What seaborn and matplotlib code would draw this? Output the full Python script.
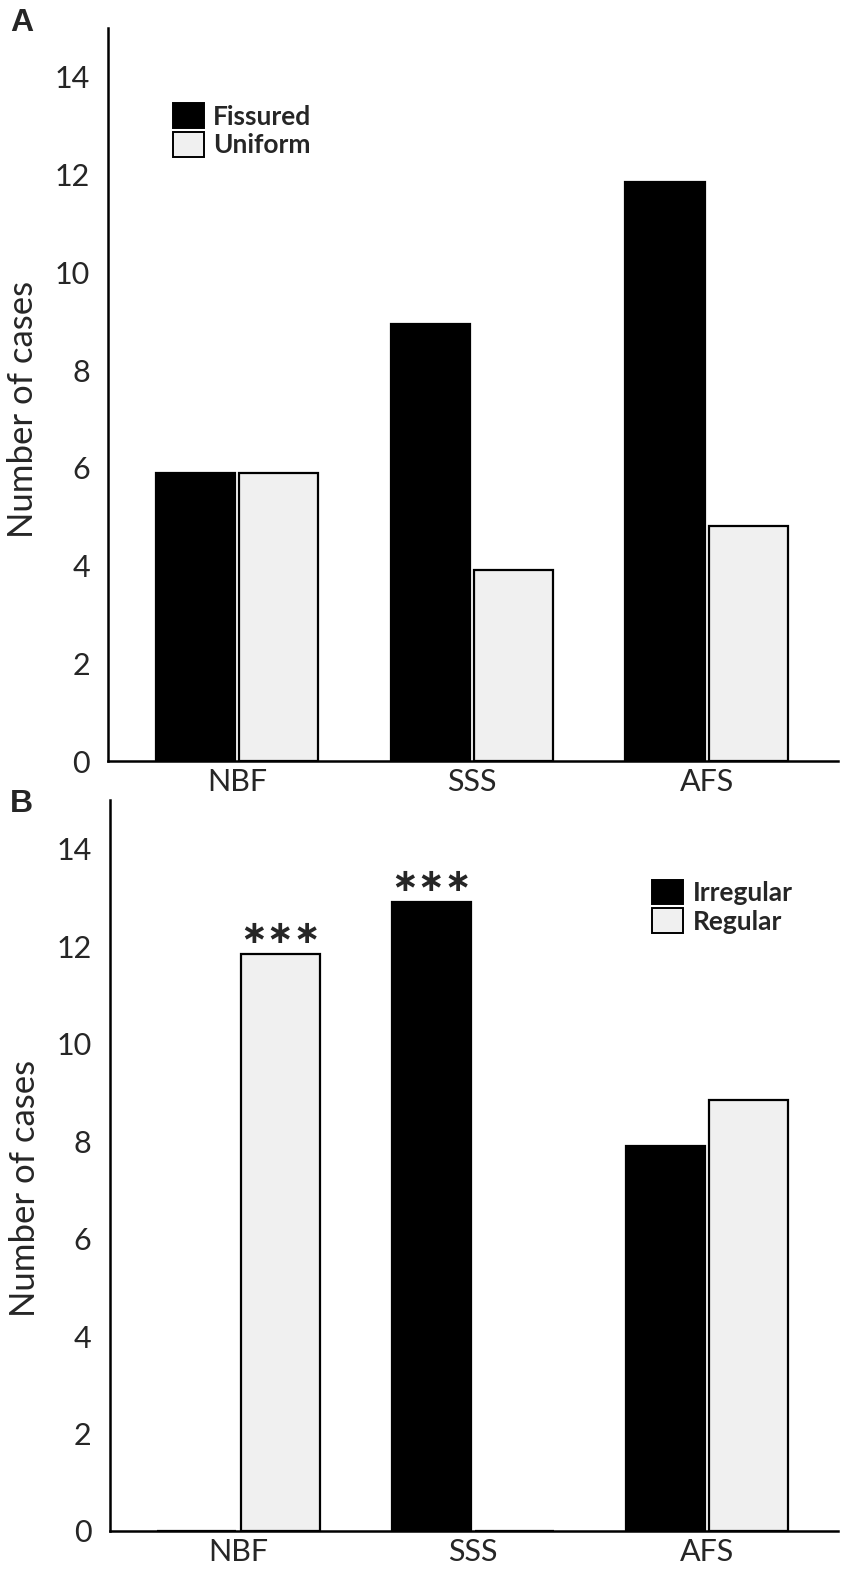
import matplotlib
matplotlib.use("Agg")
import matplotlib.pyplot as plt
from matplotlib.patches import Patch
import pandas as pd
import seaborn as sns

# -------------------------------------------
# data
# -------------------------------------------
sites = ["NBF", "SSS", "AFS"]

# panel A - bark surface
surface_types = ["Fissured", "Uniform"]
fissured = [5.9, 8.95, 11.85]
uniform = [5.9, 3.9, 4.8]

# panel B - trunk shape
shape_types = ["Irregular", "Regular"]
irregular = [0, 12.9, 7.9]
regular = [11.85, 0, 8.85]
starred_sites = ["NBF", "SSS"]

y_ticks = [0, 2, 4, 6, 8, 10, 12, 14]

df_a = pd.DataFrame({
    "site": sites * 2,
    "type": [surface_types[0]] * 3 + [surface_types[1]] * 3,
    "count": fissured + uniform,
})
df_b = pd.DataFrame({
    "site": sites * 2,
    "type": [shape_types[0]] * 3 + [shape_types[1]] * 3,
    "count": irregular + regular,
})

sns.set_theme(style="white")
plt.rcParams["font.family"] = ["Lato", "DejaVu Sans"]

DARK = "#000000"
LIGHT = "#f0f0f0"

fig = plt.figure(figsize=(8.5, 15.78), dpi=100)
ax_a = fig.add_axes([0.127, 0.5177, 0.859, 0.4646])
ax_b = fig.add_axes([0.129, 0.0298, 0.857, 0.4632])


def draw_panel(ax, df, levels, leg_anchor, label_y):
    sns.barplot(data=df, x="site", y="count", hue="type", hue_order=levels,
                order=sites, palette={levels[0]: DARK, levels[1]: LIGHT},
                edgecolor="black", linewidth=1.6, width=0.71, gap=0.05,
                saturation=1, legend=False, ax=ax)
    ax.set_xlim(-0.55, 2.56)
    ax.set_ylim(0, 15)
    ax.set_yticks(y_ticks)
    ax.tick_params(axis="both", labelsize=22, length=0)
    ax.tick_params(axis="x", pad=5)
    ax.tick_params(axis="y", pad=13)
    ax.set_xlabel("")
    ax.set_ylabel("Number of cases", fontsize=25)
    ax.yaxis.set_label_coords(-0.094, label_y)
    sns.despine(ax=ax)
    for s in ["left", "bottom"]:
        ax.spines[s].set_color("black")
        ax.spines[s].set_linewidth(1.8)
    handles = [Patch(facecolor=DARK, edgecolor="black", linewidth=1.4),
               Patch(facecolor=LIGHT, edgecolor="black", linewidth=1.4)]
    ax.legend(handles, levels, loc="upper left", bbox_to_anchor=leg_anchor,
              frameon=False, prop={"weight": "bold", "size": 19},
              handlelength=1.17, handleheight=1.06, handletextpad=0.35,
              labelspacing=0.12, borderpad=0, borderaxespad=0)


draw_panel(ax_a, df_a, surface_types, (0.089, 0.897), 0.48)
draw_panel(ax_b, df_b, shape_types, (0.745, 0.891), 0.468)

# significance stars on top of the tallest bar of marked sites
for site in starred_sites:
    idx = sites.index(site)
    group = [p for p in ax_b.patches
             if round(p.get_x() + p.get_width() / 2) == idx]
    top = max(group, key=lambda p: p.get_height())
    ax_b.text(top.get_x() + top.get_width() / 2, top.get_height() + 0.08,
              "∗∗∗", ha="center", va="bottom", fontsize=23,
              fontweight="bold", family="DejaVu Sans")

fig.text(0.012, 0.995, "A", fontsize=23, fontweight="bold",
         family="Liberation Sans", va="top", ha="left")
fig.text(0.012, 0.500, "B", fontsize=23, fontweight="bold",
         family="Liberation Sans", va="top", ha="left")

fig.savefig("out.png", dpi=100, facecolor="white")
